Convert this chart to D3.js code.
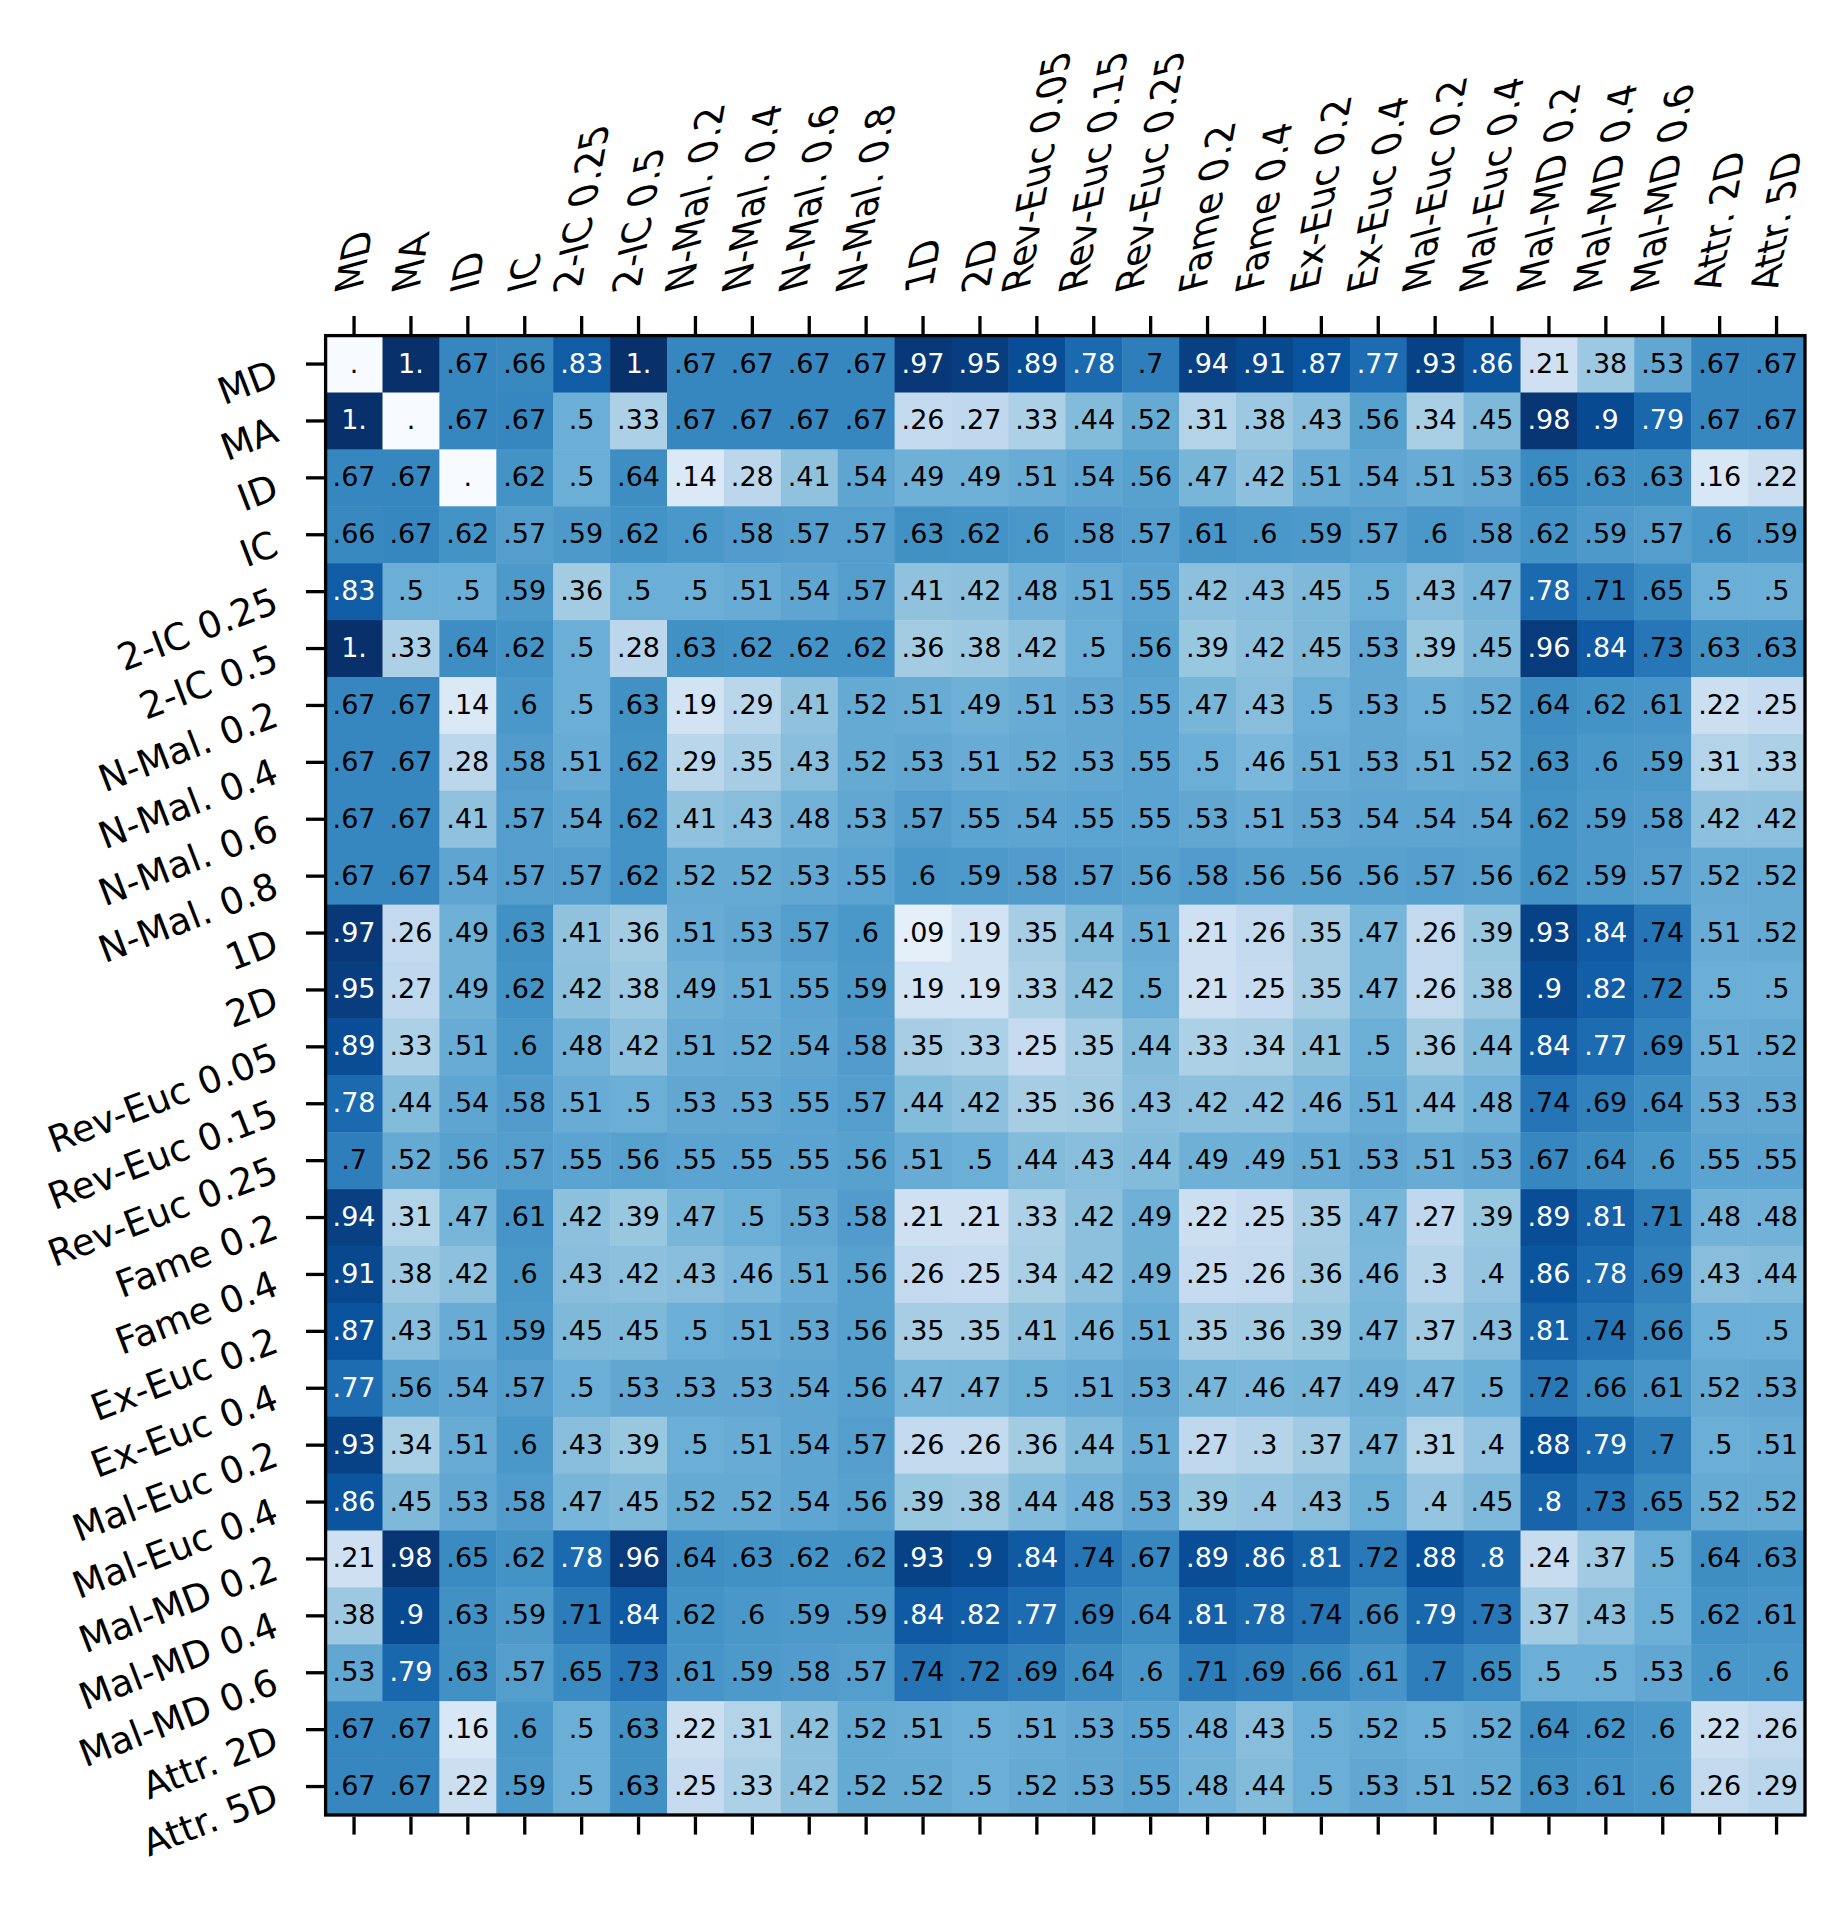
<!DOCTYPE html>
<html>
<head>
<meta charset="utf-8">
<script src="https://cdn.jsdelivr.net/npm/d3@7"></script>
<style>
  body { margin: 0; background: #fff; }
  svg { display: block; }
</style>
</head>
<body>
<div id="chart"></div>
<script>
const labels = ["MD", "MA", "ID", "IC", "2-IC 0.25", "2-IC 0.5",
  "N-Mal. 0.2", "N-Mal. 0.4", "N-Mal. 0.6", "N-Mal. 0.8", "1D", "2D",
  "Rev-Euc 0.05", "Rev-Euc 0.15", "Rev-Euc 0.25", "Fame 0.2", "Fame 0.4",
  "Ex-Euc 0.2", "Ex-Euc 0.4", "Mal-Euc 0.2", "Mal-Euc 0.4",
  "Mal-MD 0.2", "Mal-MD 0.4", "Mal-MD 0.6", "Attr. 2D", "Attr. 5D"];

// one row per label, diagonal is 0 (drawn as ".")
const rowMD     = [0, 1, .67, .66, .83, 1, .67, .67, .67, .67, .97, .95, .89, .78, .7, .94, .91, .87, .77, .93, .86, .21, .38, .53, .67, .67];
const rowMA     = [1, 0, .67, .67, .5, .33, .67, .67, .67, .67, .26, .27, .33, .44, .52, .31, .38, .43, .56, .34, .45, .98, .9, .79, .67, .67];
const rowID     = [.67, .67, 0, .62, .5, .64, .14, .28, .41, .54, .49, .49, .51, .54, .56, .47, .42, .51, .54, .51, .53, .65, .63, .63, .16, .22];
const rowIC     = [.66, .67, .62, .57, .59, .62, .6, .58, .57, .57, .63, .62, .6, .58, .57, .61, .6, .59, .57, .6, .58, .62, .59, .57, .6, .59];
const row2IC25  = [.83, .5, .5, .59, .36, .5, .5, .51, .54, .57, .41, .42, .48, .51, .55, .42, .43, .45, .5, .43, .47, .78, .71, .65, .5, .5];
const row2IC5   = [1, .33, .64, .62, .5, .28, .63, .62, .62, .62, .36, .38, .42, .5, .56, .39, .42, .45, .53, .39, .45, .96, .84, .73, .63, .63];
const rowNMal2  = [.67, .67, .14, .6, .5, .63, .19, .29, .41, .52, .51, .49, .51, .53, .55, .47, .43, .5, .53, .5, .52, .64, .62, .61, .22, .25];
const rowNMal4  = [.67, .67, .28, .58, .51, .62, .29, .35, .43, .52, .53, .51, .52, .53, .55, .5, .46, .51, .53, .51, .52, .63, .6, .59, .31, .33];
const rowNMal6  = [.67, .67, .41, .57, .54, .62, .41, .43, .48, .53, .57, .55, .54, .55, .55, .53, .51, .53, .54, .54, .54, .62, .59, .58, .42, .42];
const rowNMal8  = [.67, .67, .54, .57, .57, .62, .52, .52, .53, .55, .6, .59, .58, .57, .56, .58, .56, .56, .56, .57, .56, .62, .59, .57, .52, .52];
const row1D     = [.97, .26, .49, .63, .41, .36, .51, .53, .57, .6, .09, .19, .35, .44, .51, .21, .26, .35, .47, .26, .39, .93, .84, .74, .51, .52];
const row2D     = [.95, .27, .49, .62, .42, .38, .49, .51, .55, .59, .19, .19, .33, .42, .5, .21, .25, .35, .47, .26, .38, .9, .82, .72, .5, .5];
const rowRev05  = [.89, .33, .51, .6, .48, .42, .51, .52, .54, .58, .35, .33, .25, .35, .44, .33, .34, .41, .5, .36, .44, .84, .77, .69, .51, .52];
const rowRev15  = [.78, .44, .54, .58, .51, .5, .53, .53, .55, .57, .44, .42, .35, .36, .43, .42, .42, .46, .51, .44, .48, .74, .69, .64, .53, .53];
const rowRev25  = [.7, .52, .56, .57, .55, .56, .55, .55, .55, .56, .51, .5, .44, .43, .44, .49, .49, .51, .53, .51, .53, .67, .64, .6, .55, .55];
const rowFame2  = [.94, .31, .47, .61, .42, .39, .47, .5, .53, .58, .21, .21, .33, .42, .49, .22, .25, .35, .47, .27, .39, .89, .81, .71, .48, .48];
const rowFame4  = [.91, .38, .42, .6, .43, .42, .43, .46, .51, .56, .26, .25, .34, .42, .49, .25, .26, .36, .46, .3, .4, .86, .78, .69, .43, .44];
const rowExEuc2 = [.87, .43, .51, .59, .45, .45, .5, .51, .53, .56, .35, .35, .41, .46, .51, .35, .36, .39, .47, .37, .43, .81, .74, .66, .5, .5];
const rowExEuc4 = [.77, .56, .54, .57, .5, .53, .53, .53, .54, .56, .47, .47, .5, .51, .53, .47, .46, .47, .49, .47, .5, .72, .66, .61, .52, .53];
const rowMalEuc2 = [.93, .34, .51, .6, .43, .39, .5, .51, .54, .57, .26, .26, .36, .44, .51, .27, .3, .37, .47, .31, .4, .88, .79, .7, .5, .51];
const rowMalEuc4 = [.86, .45, .53, .58, .47, .45, .52, .52, .54, .56, .39, .38, .44, .48, .53, .39, .4, .43, .5, .4, .45, .8, .73, .65, .52, .52];
const rowMalMD2 = [.21, .98, .65, .62, .78, .96, .64, .63, .62, .62, .93, .9, .84, .74, .67, .89, .86, .81, .72, .88, .8, .24, .37, .5, .64, .63];
const rowMalMD4 = [.38, .9, .63, .59, .71, .84, .62, .6, .59, .59, .84, .82, .77, .69, .64, .81, .78, .74, .66, .79, .73, .37, .43, .5, .62, .61];
const rowMalMD6 = [.53, .79, .63, .57, .65, .73, .61, .59, .58, .57, .74, .72, .69, .64, .6, .71, .69, .66, .61, .7, .65, .5, .5, .53, .6, .6];
const rowAttr2  = [.67, .67, .16, .6, .5, .63, .22, .31, .42, .52, .51, .5, .51, .53, .55, .48, .43, .5, .52, .5, .52, .64, .62, .6, .22, .26];
const rowAttr5  = [.67, .67, .22, .59, .5, .63, .25, .33, .42, .52, .52, .5, .52, .53, .55, .48, .44, .5, .53, .51, .52, .63, .61, .6, .26, .29];

const matrix = [rowMD, rowMA, rowID, rowIC, row2IC25, row2IC5, rowNMal2, rowNMal4,
  rowNMal6, rowNMal8, row1D, row2D, rowRev05, rowRev15, rowRev25, rowFame2, rowFame4,
  rowExEuc2, rowExEuc4, rowMalEuc2, rowMalEuc4, rowMalMD2, rowMalMD4, rowMalMD6,
  rowAttr2, rowAttr5];

const width = 1847, height = 1908;
const plotLeft = 325.6, plotTop = 335.6, size = 56.9 * labels.length;
const font = "DejaVu Sans";

const cells = [];
matrix.forEach((row, i) => row.forEach((v, j) => cells.push({r: labels[i], c: labels[j], v: v})));

const x = d3.scaleBand().domain(labels).range([plotLeft, plotLeft + size]);
const y = d3.scaleBand().domain(labels).range([plotTop, plotTop + size]);
const color = d3.scaleLinear()
    .domain(d3.range(9).map(i => i / 8))
    .range(d3.schemeBlues[9]);

const fmt = v => v === 0 ? "." : v === 1 ? "1." : String(v).replace(/^0\./, ".");

const svg = d3.select("#chart").append("svg")
    .attr("width", width)
    .attr("height", height)
    .style("background", "#fff");

svg.append("g").selectAll("rect")
    .data(cells)
    .join("rect")
    .attr("x", d => x(d.c))
    .attr("y", d => y(d.r))
    .attr("width", x.bandwidth() + 0.5)
    .attr("height", y.bandwidth() + 0.5)
    .attr("fill", d => color(d.v));

svg.append("g").selectAll("text")
    .data(cells)
    .join("text")
    .attr("x", d => x(d.c) + x.bandwidth() / 2)
    .attr("y", d => y(d.r) + y.bandwidth() / 2 - 1)
    .attr("text-anchor", "middle")
    .attr("dominant-baseline", "central")
    .attr("font-family", font)
    .attr("font-size", 27)
    .attr("fill", d => d.v > 0.75 ? "#fff" : "#000")
    .text(d => fmt(d.v));

// frame
svg.append("rect")
    .attr("x", plotLeft).attr("y", plotTop)
    .attr("width", size).attr("height", size)
    .attr("fill", "none")
    .attr("stroke", "#000")
    .attr("stroke-width", 3.3);

const tickLen = 18;

const topAxis = svg.append("g")
    .attr("transform", `translate(0,${plotTop - 1.6})`)
    .call(d3.axisTop(x).tickSize(tickLen).tickSizeOuter(0));
const bottomAxis = svg.append("g")
    .attr("transform", `translate(0,${plotTop + size + 1.6})`)
    .call(d3.axisBottom(x).tickSize(tickLen).tickSizeOuter(0).tickFormat(""));
const leftAxis = svg.append("g")
    .attr("transform", `translate(${plotLeft - 1.6},0)`)
    .call(d3.axisLeft(y).tickSize(tickLen).tickSizeOuter(0));

[topAxis, bottomAxis, leftAxis].forEach(a => {
  a.select(".domain").remove();
  a.selectAll(".tick line").attr("stroke", "#000").attr("stroke-width", 3.3);
  a.selectAll("text").attr("font-family", font).attr("font-size", 37).attr("fill", "#000");
});

// top labels: rotated ~80deg, bbox centred on tick, bottom at fixed height
const labelBottom = 297;
const topRot = "rotate(-80) skewX(25)";
topAxis.selectAll(".tick text").each(function(d) {
  const t = d3.select(this)
      .attr("x", 0).attr("y", 0).attr("dy", null)
      .attr("text-anchor", "start")
      .attr("transform", topRot);
  const r = this.getBoundingClientRect();
  const cx = x(d) + x.bandwidth() / 2;
  const dx = cx - (r.left + r.right) / 2;
  const dy = labelBottom - r.bottom;
  t.attr("transform", `translate(${dx},${dy}) ${topRot}`);
});

// left labels: rotated ~21deg, anchored at right end
leftAxis.selectAll(".tick text")
    .attr("x", 0).attr("y", 0).attr("dy", null)
    .attr("text-anchor", "end")
    .attr("dominant-baseline", "central")
    .attr("transform", `translate(${276 - plotLeft + 1.6},8) rotate(-21)`);
</script>
</body>
</html>
